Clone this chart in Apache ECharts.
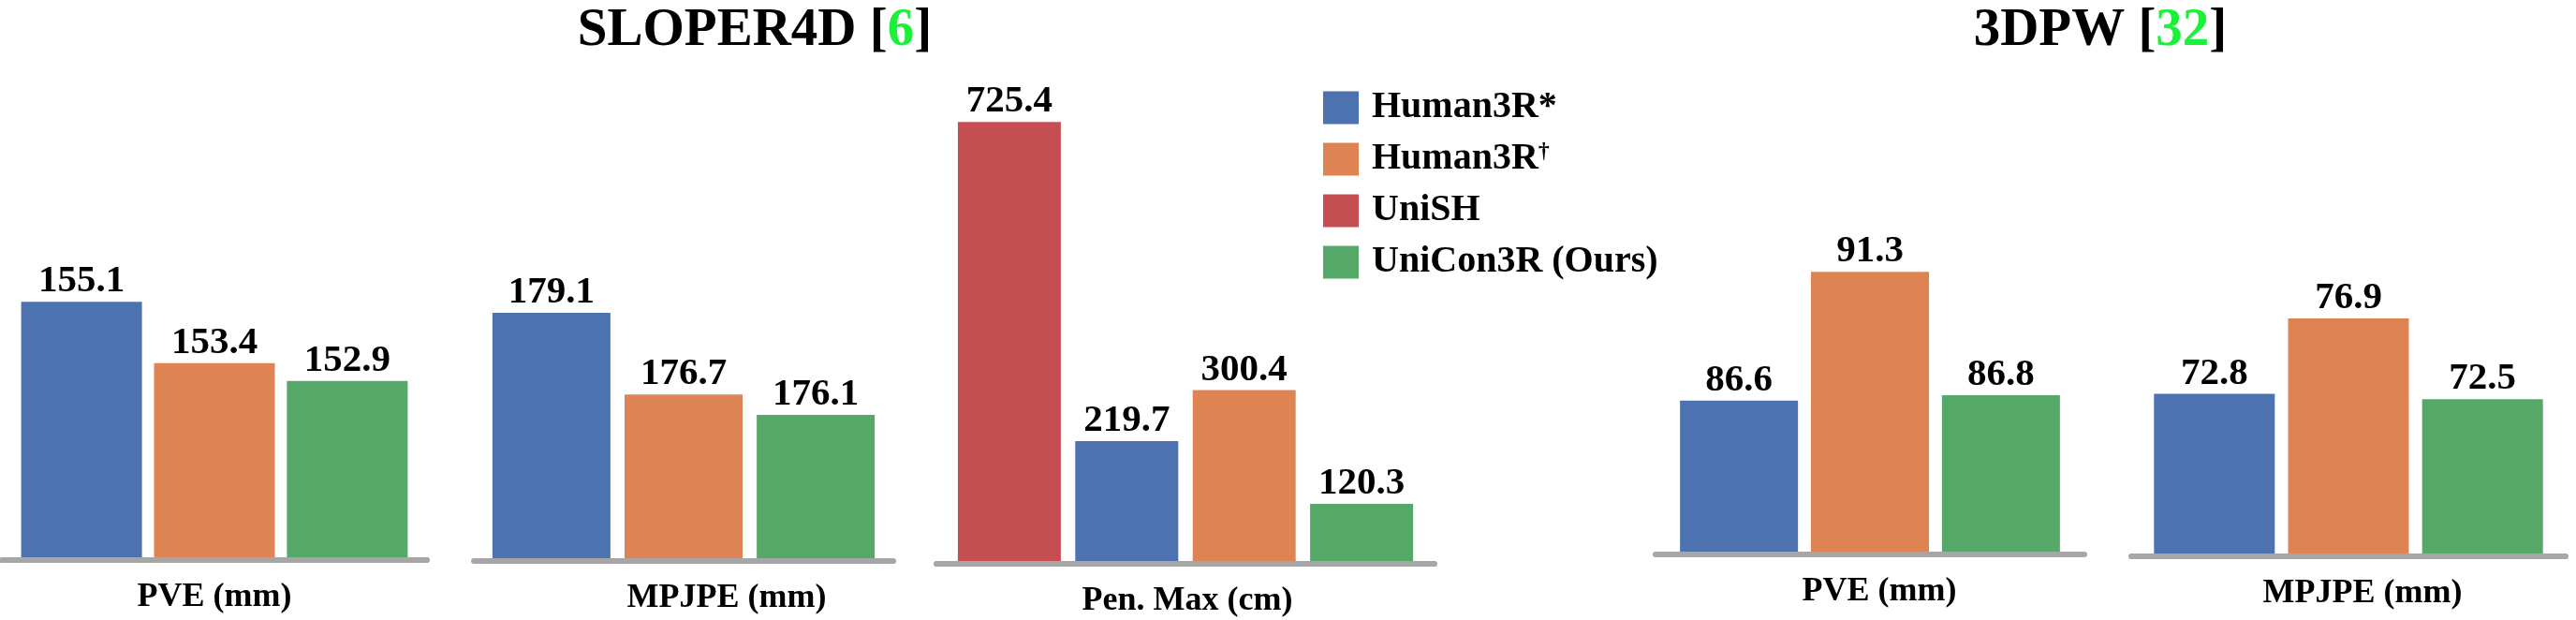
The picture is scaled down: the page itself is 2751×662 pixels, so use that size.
<!DOCTYPE html>
<html>
<head>
    <meta charset="utf-8">
    <title>SLOPER4D / 3DPW</title>
    <script src="https://cdn.jsdelivr.net/npm/echarts@6/dist/echarts.min.js"></script>
    <style>
        html, body { margin: 0; padding: 0; background: #fff; }
    </style>
</head>
<body>
<div id="main" style="width: 2751px;height:662px;"></div>

<script type="text/javascript">
    // data
    var metrics = ['PVE (mm)', 'MPJPE (mm)', 'Pen. Max (cm)', 'PVE (mm)', 'MPJPE (mm)'];
    var human3rStar = [155.1, 179.1, 219.7, 86.6, 72.8];
    var human3rDagger = [153.4, 176.7, 300.4, 91.3, 76.9];
    var uniSH = [null, null, 725.4, null, null];
    var uniCon3R = [152.9, 176.1, 120.3, 86.8, 72.5];
    var seriesNames = ['Human3R*', 'Human3R\u2020', 'UniSH', 'UniCon3R (Ours)'];

    var FONT = "'Liberation Serif', 'Times New Roman', serif";
    var colors = {
        'Human3R*': '#4C72B0',
        'Human3R\u2020': '#DD8452',
        'UniSH': '#C44E52',
        'UniCon3R (Ours)': '#55A868'
    };

    // panel layout: grid left/width, baseline y, axis min, px per unit, bar width, gap, label shift
    var panels = [
        {left: 2,    width: 454, base: 595, min: 148.0, ppu: 38.4,  bw: 129, gap: '10%', shift: 0},
        {left: 506,  width: 448, base: 596, min: 171.9, ppu: 36.4,  bw: 126, gap: '12%', shift: 92},
        {left: 1000, width: 532, base: 599, min: 29.8,  ppu: 0.674, bw: 110, gap: '14%', shift: 4},
        {left: 1768, width: 458, base: 589, min: 81.1,  ppu: 29.3,  bw: 126, gap: '11%', shift: 20},
        {left: 2276, width: 464, base: 591, min: 64.1,  ppu: 19.6,  bw: 129, gap: '11%', shift: 30}
    ];
    var GRID_TOP = 100;

    var myChart = echarts.init(document.getElementById('main'));

    var grids = [], xAxes = [], yAxes = [], series = [];
    panels.forEach(function (p, i) {
        grids.push({left: p.left, width: p.width, top: GRID_TOP, height: p.base - GRID_TOP});
        xAxes.push({
            type: 'category',
            gridIndex: i,
            data: [metrics[i]],
            offset: 3,
            axisLine: {lineStyle: {color: '#A6A6A6', width: 6}},
            axisTick: {show: false},
            axisLabel: {
                margin: 22,
                fontFamily: FONT,
                fontWeight: 'bold',
                fontSize: 36,
                color: '#000',
                padding: [0, 0, 0, p.shift]
            }
        });
        yAxes.push({
            type: 'value',
            gridIndex: i,
            show: false,
            min: p.min,
            max: p.min + (p.base - GRID_TOP) / p.ppu,
            splitLine: {show: false}
        });

        var cols = i === 2
            ? [['UniSH', uniSH], ['Human3R*', human3rStar], ['Human3R\u2020', human3rDagger], ['UniCon3R (Ours)', uniCon3R]]
            : [['Human3R*', human3rStar], ['Human3R\u2020', human3rDagger], ['UniCon3R (Ours)', uniCon3R]];
        cols.forEach(function (c) {
            series.push({
                name: c[0],
                type: 'bar',
                xAxisIndex: i,
                yAxisIndex: i,
                data: [c[1][i]],
                barWidth: p.bw,
                barGap: p.gap,
                itemStyle: {color: colors[c[0]]},
                label: {
                    show: true,
                    position: 'top',
                    distance: 1,
                    fontFamily: FONT,
                    fontWeight: 'bold',
                    fontSize: 41,
                    color: '#000',
                    formatter: function (d) { return d.value.toFixed(1); }
                }
            });
        });
    });

    var titleRich = {
        b: {fontFamily: FONT, fontWeight: 'bold', fontSize: 57, color: '#000'},
        g: {fontFamily: FONT, fontWeight: 'bold', fontSize: 57, color: '#1AF23A'}
    };

    var option = {
        animation: false,
        title: [
            {text: '{b|SLOPER4D [}{g|6}{b|]}', left: 801, top: 0, textAlign: 'center',
                textStyle: {rich: titleRich}},
            {text: '{b|3DPW [}{g|32}{b|]}', left: 2238, top: 0, textAlign: 'center',
                textStyle: {rich: titleRich}}
        ],
        legend: {
            data: seriesNames,
            orient: 'vertical',
            left: 1408,
            top: 90,
            itemWidth: 38,
            itemHeight: 35,
            itemGap: 15,
            icon: 'rect',
            formatter: function (name) {
                if (name === 'Human3R\u2020') return '{n|Human3R}{d|\u2020}';
                return '{n|' + name + '}';
            },
            textStyle: {
                padding: [0, 0, 0, 9],
                rich: {
                    n: {fontFamily: FONT, fontWeight: 'bold', fontSize: 40, lineHeight: 40, color: '#000'},
                    d: {fontFamily: FONT, fontWeight: 'bold', fontSize: 24, lineHeight: 40, color: '#000', verticalAlign: 'top'}
                }
            }
        },
        grid: grids,
        xAxis: xAxes,
        yAxis: yAxes,
        series: series
    };

    myChart.setOption(option);
</script>
</body>
</html>
